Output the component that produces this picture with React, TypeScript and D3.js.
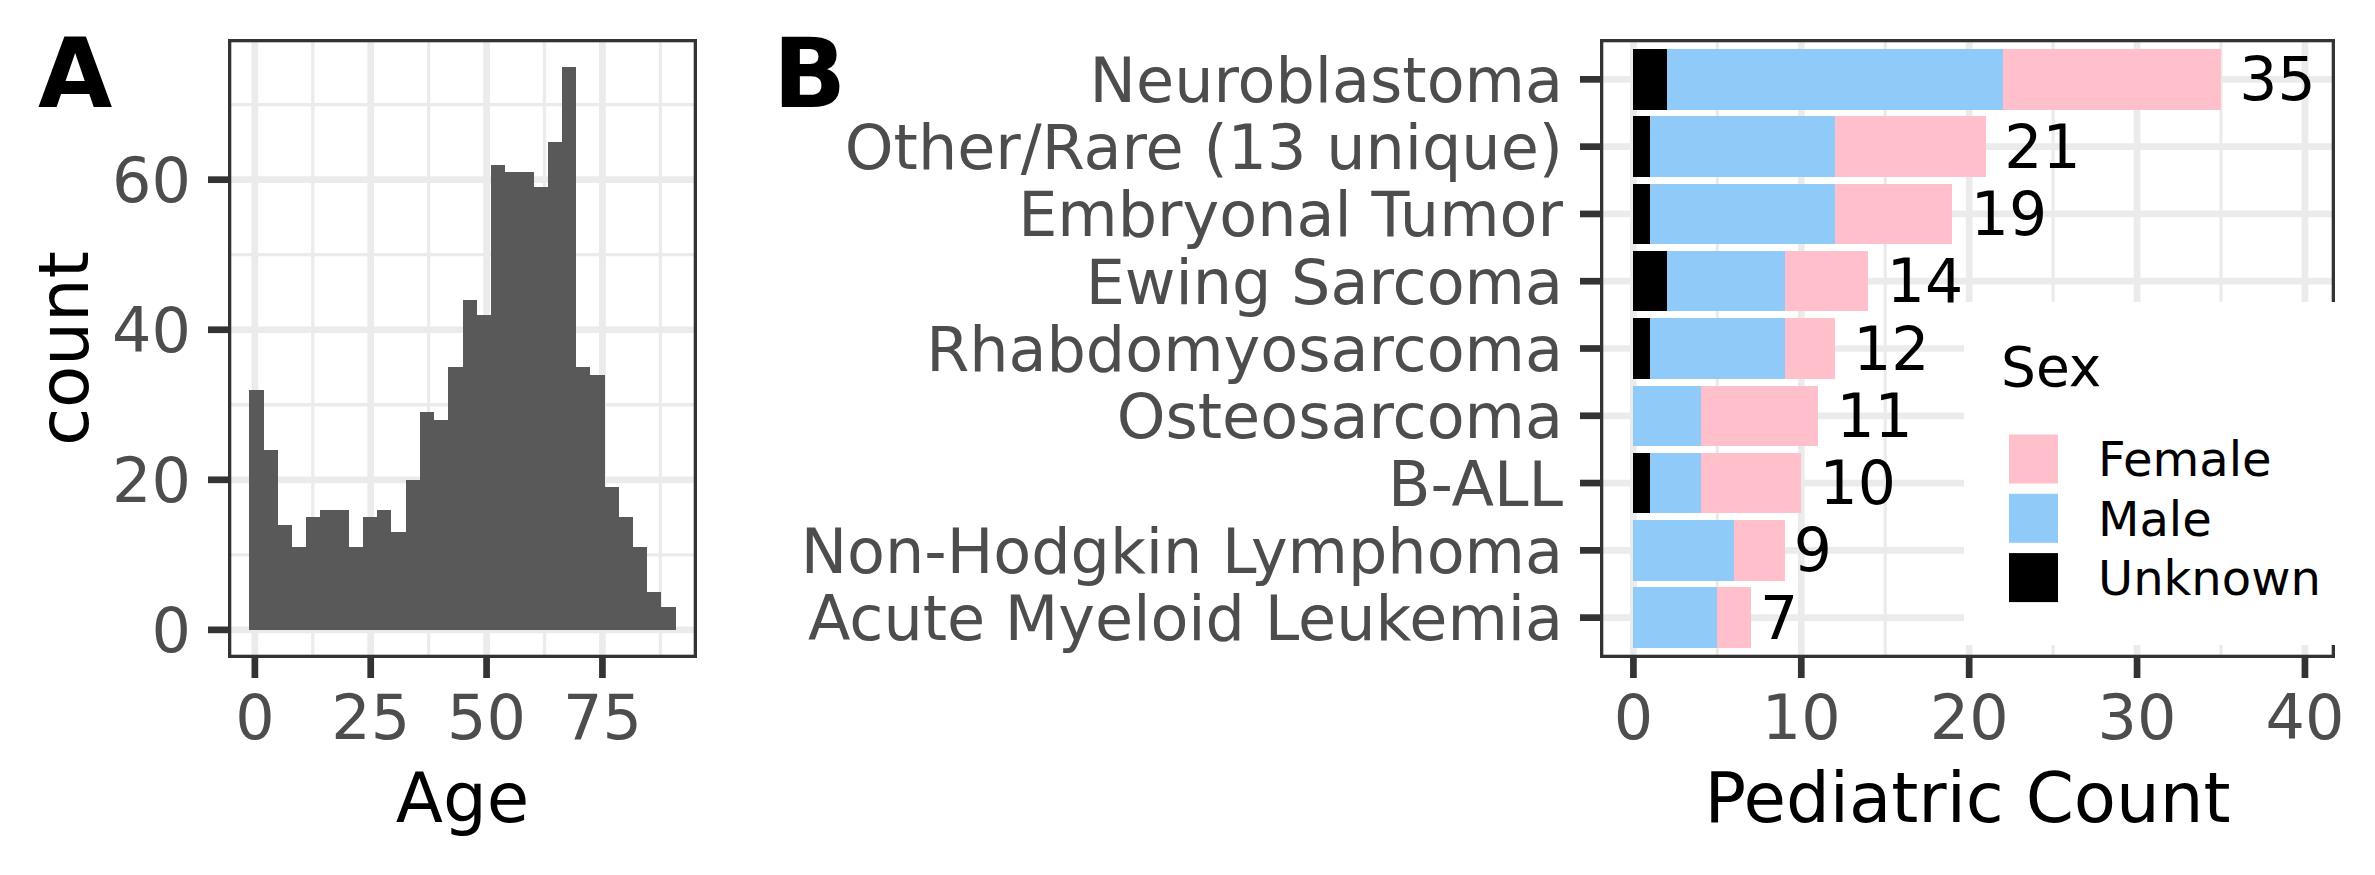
import * as d3 from "d3";
import { useRef, useEffect } from "react";

// Panel A: age histogram, 30 bins
const ageBinStart = -1.2;
const ageBinWidth = 3.067;
const ageCounts = [
  32, 24, 14, 11, 15, 16, 16, 11, 15, 16, 13, 20, 29, 28, 35,
  44, 42, 62, 61, 61, 59, 65, 75, 35, 34, 19, 15, 11, 5, 3,
];
const ageTicks = [0, 25, 50, 75];
const countTicks = [0, 20, 40, 60];

// Panel B: pediatric counts by cancer type and sex
const cancerTypes = [
  "Neuroblastoma",
  "Other/Rare (13 unique)",
  "Embryonal Tumor",
  "Ewing Sarcoma",
  "Rhabdomyosarcoma",
  "Osteosarcoma",
  "B-ALL",
  "Non-Hodgkin Lymphoma",
  "Acute Myeloid Leukemia",
];
const femaleCounts = [13, 9, 7, 5, 3, 7, 6, 3, 2];
const maleCounts = [20, 11, 11, 7, 8, 4, 3, 6, 5];
const unknownCounts = [2, 1, 1, 2, 1, 0, 1, 0, 0];
const sexKeys = ["Unknown", "Male", "Female"]; // stacking order, left to right
const legendKeys = ["Female", "Male", "Unknown"];
const pediatricTicks = [0, 10, 20, 30, 40];
const pediatricMax = 39.8; // upper limit incl. room for labels

const W = 2375;
const H = 875;
const FONT = "DejaVu Sans";
const GRID = "#EBEBEB";
const INK = "#333333";
const TICK_TEXT = "#4D4D4D";
const sexColors: Record<string, string> = {
  Female: "#FFC0CB",
  Male: "#90CAF9",
  Unknown: "#000000",
};

const panelA = { left: 228, right: 697, top: 39, bottom: 658 };
const panelB = { left: 1600, right: 2335, top: 39, bottom: 658 };

type Sel = d3.Selection<SVGGElement, unknown, null, undefined>;

const minorBreaks = (ticks: number[], domain: number[]) => {
  const step = ticks[1] - ticks[0];
  const out: number[] = [];
  for (let v = ticks[0] - step / 2; v <= ticks[ticks.length - 1] + step / 2 + 1e-9; v += step) {
    if (v >= domain[0] && v <= domain[1]) out.push(v);
  }
  return out;
};

const addText = (
  g: Sel,
  x: number,
  y: number,
  s: string,
  size: number,
  fill: string,
  anchor = "start",
  weight = "normal"
) =>
  g
    .append("text")
    .attr("x", x)
    .attr("y", y)
    .attr("font-family", FONT)
    .attr("font-size", size)
    .attr("font-weight", weight)
    .attr("fill", fill)
    .attr("text-anchor", anchor)
    .text(s);

const vGrid = (g: Sel, p: typeof panelA, xs: number[], w: number) =>
  xs.forEach((v) =>
    g.append("line")
      .attr("x1", v).attr("x2", v)
      .attr("y1", p.top).attr("y2", p.bottom)
      .attr("stroke", GRID).attr("stroke-width", w)
  );

const hGrid = (g: Sel, p: typeof panelA, ys: number[], w: number) =>
  ys.forEach((v) =>
    g.append("line")
      .attr("x1", p.left).attr("x2", p.right)
      .attr("y1", v).attr("y2", v)
      .attr("stroke", GRID).attr("stroke-width", w)
  );

const border = (g: Sel, p: typeof panelA) =>
  g.append("rect")
    .attr("x", p.left + 1.65)
    .attr("y", p.top + 1.65)
    .attr("width", p.right - p.left - 3.3)
    .attr("height", p.bottom - p.top - 3.3)
    .attr("fill", "none")
    .attr("stroke", INK)
    .attr("stroke-width", 3.3);

const drawHistogram = (g: Sel) => {
  const p = panelA;
  const lo = ageBinStart;
  const hi = ageBinStart + ageBinWidth * ageCounts.length;
  const span = hi - lo;
  const x = d3.scaleLinear().domain([lo - 0.05 * span, hi + 0.05 * span]).range([p.left, p.right]);
  const yMax = d3.max(ageCounts)!;
  const y = d3.scaleLinear().domain([-0.05 * yMax, yMax * 1.05]).range([p.bottom, p.top]);

  // grid
  vGrid(g, p, minorBreaks(ageTicks, x.domain()).map(x), 3.3);
  hGrid(g, p, minorBreaks(countTicks, y.domain()).map(y), 3.3);
  vGrid(g, p, ageTicks.map(x), 6.7);
  hGrid(g, p, countTicks.map(y), 6.7);

  // bars
  g.selectAll(".bin")
    .data(ageCounts)
    .join("rect")
    .attr("x", (_, i) => x(lo + i * ageBinWidth))
    .attr("width", (_, i) => x(lo + (i + 1) * ageBinWidth) - x(lo + i * ageBinWidth))
    .attr("y", (d) => y(d))
    .attr("height", (d) => y(0) - y(d))
    .attr("fill", "#595959")
    .attr("shape-rendering", "crispEdges");

  border(g, p);

  // axes
  countTicks.forEach((t) => {
    g.append("line")
      .attr("x1", p.left - 20).attr("x2", p.left)
      .attr("y1", y(t)).attr("y2", y(t))
      .attr("stroke", INK).attr("stroke-width", 6.7);
    addText(g, p.left - 37, y(t) + 22.5, String(t), 62, TICK_TEXT, "end");
  });
  ageTicks.forEach((t) => {
    g.append("line")
      .attr("x1", x(t)).attr("x2", x(t))
      .attr("y1", p.bottom).attr("y2", p.bottom + 20)
      .attr("stroke", INK).attr("stroke-width", 6.7);
    addText(g, x(t), 739, String(t), 62, TICK_TEXT, "middle");
  });

  addText(g, (p.left + p.right) / 2, 822, "Age", 69, "black", "middle");
  addText(g, 0, 0, "count", 69, "black", "middle")
    .attr("transform", `translate(88,${(p.top + p.bottom) / 2}) rotate(-90)`);
  addText(g, 38, 107, "A", 96, "black", "start", "bold");
};

const drawStacked = (g: Sel) => {
  const p = panelB;
  const x = d3
    .scaleLinear()
    .domain([-0.05 * pediatricMax, pediatricMax * 1.05])
    .range([p.left, p.right]);
  const y = d3
    .scaleBand()
    .domain(cancerTypes)
    .range([p.top, p.bottom])
    .paddingInner(0.1)
    .paddingOuter(0.15);
  const mid = (c: string) => y(c)! + y.bandwidth() / 2;

  vGrid(g, p, minorBreaks(pediatricTicks, x.domain()).map(x), 3.3);
  vGrid(g, p, pediatricTicks.map(x), 6.7);
  hGrid(g, p, cancerTypes.map(mid), 6.7);

  const rows = cancerTypes.map((c, i) => ({
    type: c,
    Unknown: unknownCounts[i],
    Male: maleCounts[i],
    Female: femaleCounts[i],
  }));
  const series = d3.stack<any>().keys(sexKeys)(rows);

  series.forEach((s) => {
    g.append("g")
      .selectAll("rect")
      .data(s)
      .join("rect")
      .attr("x", (d) => x(d[0]))
      .attr("width", (d) => x(d[1]) - x(d[0]))
      .attr("y", (d) => y(d.data.type)!)
      .attr("height", y.bandwidth())
      .attr("fill", sexColors[s.key])
      .attr("shape-rendering", "crispEdges");
  });

  // totals
  rows.forEach((r, i) => {
    const total = unknownCounts[i] + maleCounts[i] + femaleCounts[i];
    const label = String(total);
    const w = label.length * 0.636 * 60;
    addText(g, x(total) + 0.24 * w, mid(r.type) + 21, label, 60, "black");
  });

  border(g, p);

  cancerTypes.forEach((c) => {
    g.append("line")
      .attr("x1", p.left - 20).attr("x2", p.left)
      .attr("y1", mid(c)).attr("y2", mid(c))
      .attr("stroke", INK).attr("stroke-width", 6.7);
    addText(g, p.left - 37, mid(c) + 22.5, c, 62, TICK_TEXT, "end");
  });
  pediatricTicks.forEach((t) => {
    g.append("line")
      .attr("x1", x(t)).attr("x2", x(t))
      .attr("y1", p.bottom).attr("y2", p.bottom + 20)
      .attr("stroke", INK).attr("stroke-width", 6.7);
    addText(g, x(t), 739, String(t), 62, TICK_TEXT, "middle");
  });

  addText(g, (p.left + p.right) / 2, 822, "Pediatric Count", 69, "black", "middle");
  addText(g, 773, 107, "B", 96, "black", "start", "bold");

  // legend drawn inside the panel, over the border
  const legend = g.append("g");
  legend.append("rect")
    .attr("x", 1964).attr("y", 302)
    .attr("width", 386).attr("height", 343)
    .attr("fill", "white");
  addText(legend, 2001, 386, "Sex", 55, "black");
  legendKeys.forEach((k, i) => {
    const top = 434.5 + i * 59.3;
    legend.append("rect")
      .attr("x", 2009).attr("y", top)
      .attr("width", 49).attr("height", 49)
      .attr("fill", sexColors[k]);
    addText(legend, 2098, top + 24.5 + 17.3, k, 48, "black");
  });
};

export default function App() {
  const svgRef = useRef<SVGSVGElement | null>(null);

  useEffect(() => {
    if (!svgRef.current) return;
    const svg = d3.select(svgRef.current);
    svg.selectAll("*").remove();
    svg.append("rect").attr("width", W).attr("height", H).attr("fill", "white");
    const root = svg.append("g") as unknown as Sel;
    drawHistogram(root);
    drawStacked(root);
  }, []);

  return (
    <svg
      ref={svgRef}
      width={W}
      height={H}
      style={{ position: "absolute", left: 0, top: 0, display: "block" }}
    />
  );
}
